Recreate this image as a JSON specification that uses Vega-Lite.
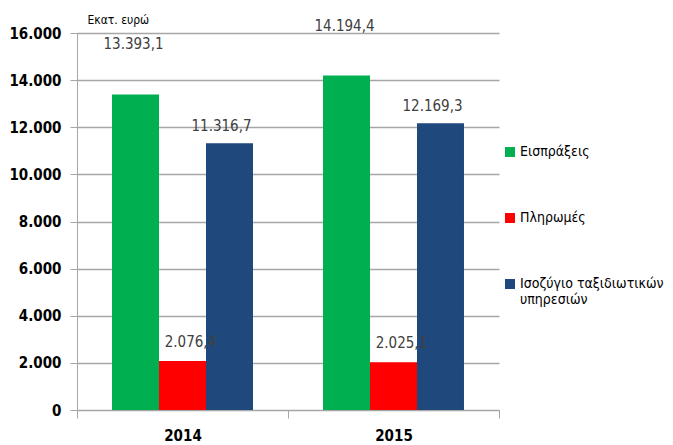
{
  "$schema": "https://vega.github.io/schema/vega-lite/v6.json",
  "width": 422,
  "height": 377,
  "autosize": {"type": "none"},
  "padding": {"left": 77, "top": 33, "right": 174, "bottom": 35},
  "background": "white",
  "config": {
    "locale": {"number": {"decimal": ",", "thousands": ".", "grouping": [3], "currency": ["", " €"]}},
    "font": "DejaVu Sans Condensed, sans-serif",
    "view": {"stroke": null}
  },
  "data": {
    "values": [
      {"year": "2014", "series": "Εισπράξεις", "value": 13393.1},
      {"year": "2014", "series": "Πληρωμές", "value": 2076.4},
      {"year": "2014", "series": "Ισοζύγιο ταξιδιωτικών υπηρεσιών", "value": 11316.7},
      {"year": "2015", "series": "Εισπράξεις", "value": 14194.4},
      {"year": "2015", "series": "Πληρωμές", "value": 2025.1},
      {"year": "2015", "series": "Ισοζύγιο ταξιδιωτικών υπηρεσιών", "value": 12169.3}
    ]
  },
  "encoding": {
    "x": {
      "field": "year", "type": "nominal",
      "scale": {"paddingInner": 0, "paddingOuter": 0},
      "axis": {
        "title": null, "labelAngle": 0, "tickBand": "extent", "tickSize": 8,
        "tickColor": "#A6A6A6", "domainColor": "#A6A6A6", "labelFontSize": 15,
        "labelFontWeight": "bold", "labelColor": "#000000", "labelPadding": 10, "grid": false
      }
    },
    "xOffset": {
      "field": "series", "type": "nominal",
      "sort": ["Εισπράξεις", "Πληρωμές", "Ισοζύγιο ταξιδιωτικών υπηρεσιών"],
      "scale": {"paddingInner": 0, "paddingOuter": 0.745}
    },
    "y": {
      "field": "value", "type": "quantitative",
      "scale": {"domain": [0, 16000], "nice": false},
      "axis": {
        "title": "Εκατ. ευρώ", "titleAngle": 0, "titleAlign": "left", "titleBaseline": "middle",
        "titleX": 10, "titleY": -14, "titleFontSize": 12, "titleFontWeight": "normal", "titleColor": "#000000",
        "format": ",d", "values": [0, 2000, 4000, 6000, 8000, 10000, 12000, 14000, 16000],
        "labelFontSize": 15, "labelFontWeight": "bold", "labelColor": "#000000",
        "tickSize": 7, "tickColor": "#A6A6A6", "domainColor": "#A6A6A6", "labelPadding": 9,
        "gridColor": "#A6A6A6", "gridWidth": 1.3
      }
    }
  },
  "layer": [
    {
      "mark": {"type": "bar"},
      "encoding": {
        "color": {
          "field": "series", "type": "nominal",
          "scale": {
            "domain": ["Εισπράξεις", "Πληρωμές", "Ισοζύγιο ταξιδιωτικών υπηρεσιών"],
            "range": ["#00B050", "#FF0000", "#1F497D"]
          },
          "legend": {
            "title": null, "orient": "none", "legendX": 426, "legendY": 112,
            "symbolType": "square", "symbolSize": 100, "symbolStrokeWidth": 0,
            "labelFontSize": 14, "labelColor": "#000000", "rowPadding": 52, "labelOffset": 3,
            "labelLimit": 200,
            "labelExpr": "datum.label == 'Ισοζύγιο ταξιδιωτικών υπηρεσιών' ? ['Ισοζύγιο ταξιδιωτικών', 'υπηρεσιών'] : datum.label"
          }
        }
      }
    },
    {
      "transform": [{"filter": "datum.series == 'Εισπράξεις'"}],
      "mark": {"type": "text", "dy": -50, "dx": -2, "fontSize": 15, "color": "#404040", "baseline": "middle"},
      "encoding": {"text": {"field": "value", "type": "quantitative", "format": ",.1f"}}
    },
    {
      "transform": [{"filter": "datum.series == 'Πληρωμές'"}],
      "mark": {"type": "text", "dy": -19, "dx": 8, "fontSize": 15, "color": "#404040", "baseline": "middle"},
      "encoding": {"text": {"field": "value", "type": "quantitative", "format": ",.1f"}}
    },
    {
      "transform": [{"filter": "datum.series == 'Ισοζύγιο ταξιδιωτικών υπηρεσιών'"}],
      "mark": {"type": "text", "dy": -17, "dx": -8, "fontSize": 15, "color": "#404040", "baseline": "middle"},
      "encoding": {"text": {"field": "value", "type": "quantitative", "format": ",.1f"}}
    }
  ]
}
